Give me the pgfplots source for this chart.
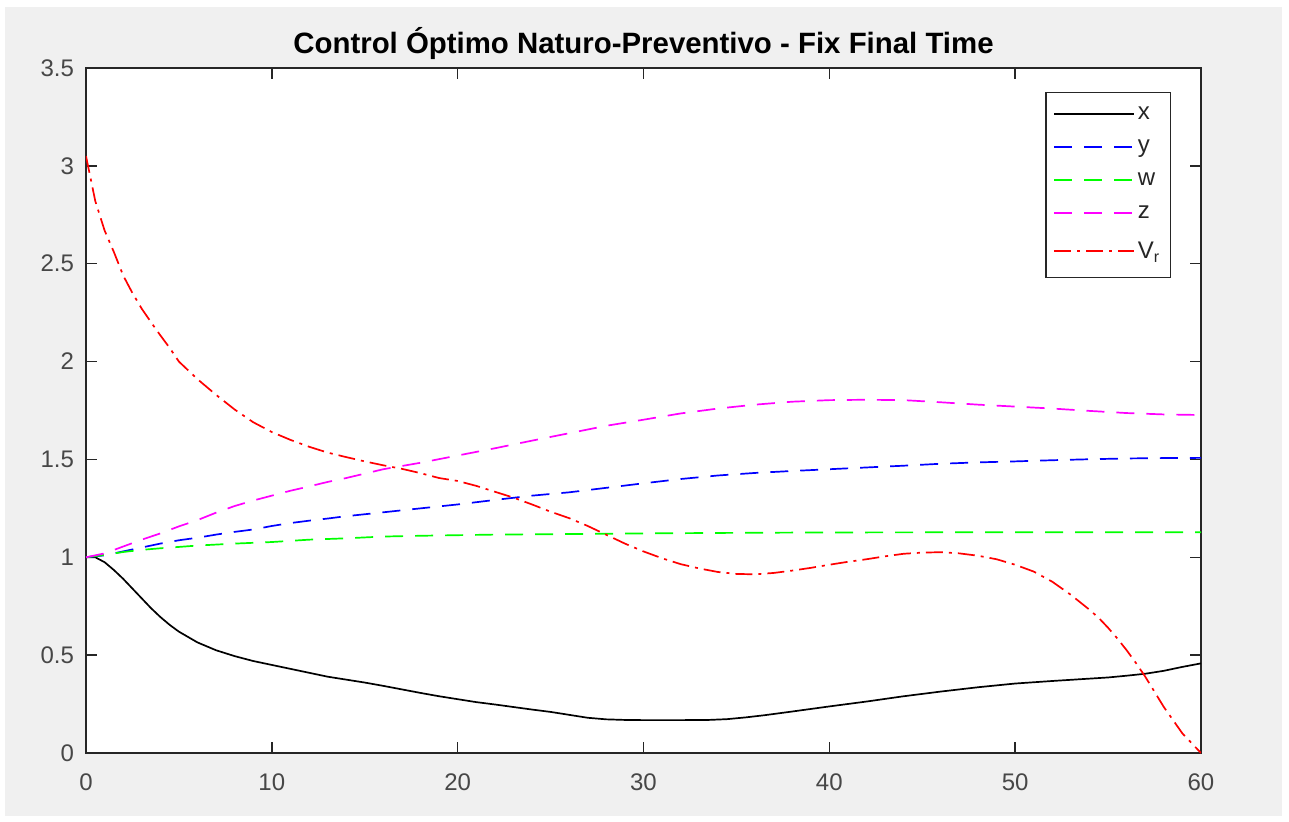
\documentclass[border=0pt]{standalone}
\usepackage{pgfplots}
\pgfplotsset{compat=1.18}
\usepackage{fontspec}
\setmainfont{Liberation Sans}
\definecolor{figbg}{RGB}{240,240,240}
\definecolor{axgray}{RGB}{38,38,38}
\definecolor{mblue}{RGB}{0,0,255}
\definecolor{mgreen}{RGB}{0,255,0}
\definecolor{mmag}{RGB}{255,0,255}
\definecolor{mred}{RGB}{255,0,0}
\begin{document}
\begin{tikzpicture}
\fill[white] (-43pt,-34pt) rectangle (601.5pt,376.5pt);
\fill[figbg] (-40.5pt,-31.5pt) rectangle (598pt,373pt);
\begin{axis}[
  scale only axis, width=557.5pt, height=342.5pt,
  xmin=0, xmax=60, ymin=0, ymax=3.5,
  xtick={0,10,...,60}, ytick={0,0.5,...,3.5},
  axis background/.style={fill=white},
  tick align=inside, major tick length=5.5pt,
  axis line style={axgray, line width=0.7pt},
  every tick/.style={axgray, line width=0.7pt},
  /pgf/number format/assume math mode=true,
  tick label style={font=\fontsize{12}{14}\selectfont, text=axgray!85},
  xticklabel style={yshift=-7pt},
  yticklabel style={xshift=-2.5pt},
  title={Control Óptimo Naturo-Preventivo - Fix Final Time},
  every axis title shift=0pt,
  title style={font=\bfseries\fontsize{14.7}{17}\selectfont, at={(0.5,1)}, anchor=base, yshift=7.5pt},
  legend image code/.code={\draw[#1] (0pt,0pt) -- (40pt,0pt);},
  legend cell align=left,
  legend style={at={(0.9731,0.965)}, anchor=north east, draw=axgray, line width=0.7pt, fill=white,
    font=\fontsize{12}{14}\selectfont, inner xsep=3.5pt, inner ysep=3pt, row sep=1.5pt,
    nodes={inner xsep=1.5pt, inner ysep=1.5pt, text height=9pt, text depth=3pt, text=axgray}},
]
\addplot[draw=black, line width=0.85pt, forget plot] coordinates {(0,1.0) (0.5,1.0) (1,0.975) (1.5,0.935) (2,0.89) (2.5,0.84) (3,0.79) (3.5,0.74) (4,0.695) (4.5,0.655) (5,0.62) (6,0.565) (7,0.525) (8,0.495) (9,0.47) (10,0.45) (11,0.43) (12,0.41) (13,0.39) (14,0.375) (15,0.36) (16,0.343) (17,0.325) (18,0.307) (19,0.29) (20,0.275) (21,0.26) (22,0.248) (23,0.235) (24,0.222) (25,0.21) (26,0.195) (27,0.18) (28,0.172) (29,0.169) (30,0.168) (32,0.168) (33.5,0.169) (34.5,0.173) (35.5,0.182) (36.5,0.193) (38,0.212) (40,0.238) (42,0.263) (44,0.29) (46,0.314) (48,0.336) (50,0.355) (52,0.368) (54,0.38) (55,0.386) (56,0.395) (57,0.405) (58,0.42) (59,0.44) (60,0.458)};
\addplot[draw=mblue, line width=0.85pt, dash pattern=on 9pt off 6pt, forget plot] coordinates {(0,1.0) (1,1.01) (2,1.03) (3,1.05) (4,1.07) (5,1.087) (6,1.1) (7,1.116) (8,1.13) (9,1.142) (10,1.16) (11,1.175) (12,1.187) (13,1.198) (14,1.21) (16,1.23) (18,1.25) (20,1.27) (22,1.293) (24,1.315) (26,1.332) (28,1.355) (30,1.378) (32,1.4) (34,1.418) (36,1.431) (38,1.441) (40,1.45) (42,1.459) (44,1.468) (46,1.478) (48,1.485) (50,1.49) (52,1.496) (54,1.501) (56,1.505) (58,1.507) (60,1.508)};
\addplot[draw=mgreen, line width=0.85pt, dash pattern=on 9pt off 6pt, forget plot] coordinates {(0,1.0) (1,1.012) (2,1.027) (3,1.038) (4,1.046) (5,1.053) (6,1.06) (7,1.065) (8,1.07) (9,1.074) (10,1.078) (12,1.09) (14,1.097) (16,1.106) (18,1.11) (20,1.113) (22,1.116) (25,1.118) (30,1.122) (35,1.125) (40,1.127) (50,1.128) (60,1.128)};
\addplot[draw=mmag, line width=0.85pt, dash pattern=on 9pt off 6pt, forget plot] coordinates {(0,1.0) (1,1.02) (2,1.055) (3,1.09) (4,1.122) (5,1.158) (6,1.19) (7,1.228) (8,1.262) (9,1.29) (10,1.315) (11,1.34) (12,1.362) (13,1.385) (14,1.405) (16,1.45) (18,1.483) (20,1.52) (22,1.557) (24,1.596) (26,1.634) (28,1.672) (30,1.703) (32,1.735) (34,1.76) (36,1.78) (38,1.795) (40,1.803) (42,1.805) (44,1.803) (46,1.792) (48,1.78) (50,1.77) (52,1.76) (54,1.748) (56,1.737) (58,1.73) (60,1.727)};
\addplot[draw=mred, line width=0.85pt, dash pattern=on 8.5pt off 3pt on 1.5pt off 3pt, forget plot] coordinates {(0,3.05) (0.5,2.82) (1,2.67) (1.5,2.56) (2,2.44) (2.5,2.35) (3,2.27) (3.8,2.16) (4.5,2.07) (5,2.0) (6,1.91) (7,1.83) (8,1.755) (9,1.69) (10,1.64) (11,1.6) (12,1.565) (13,1.535) (14,1.512) (15,1.49) (16,1.47) (17,1.452) (18,1.43) (19,1.405) (20,1.39) (21,1.365) (22,1.335) (23,1.305) (24,1.27) (25,1.233) (26,1.2) (27,1.16) (28,1.115) (29,1.07) (30,1.03) (31,0.995) (32,0.965) (33,0.943) (34,0.925) (35,0.915) (36,0.913) (37,0.92) (38,0.932) (39,0.946) (40,0.962) (41,0.977) (42,0.99) (43,1.005) (44,1.018) (45,1.024) (46,1.026) (47,1.02) (48,1.008) (49,0.99) (50,0.962) (51,0.927) (52,0.875) (53,0.808) (54,0.732) (54.5,0.69) (55,0.64) (55.5,0.585) (56,0.525) (56.5,0.46) (57,0.39) (58,0.235) (59,0.1) (60,0.0)};
\addlegendimage{draw=black, line width=0.9pt}
\addlegendentry{x}
\addlegendimage{draw=mblue, line width=0.9pt, dash pattern=on 9pt off 6pt}
\addlegendentry{y}
\addlegendimage{draw=mgreen, line width=0.9pt, dash pattern=on 9pt off 6pt}
\addlegendentry{w}
\addlegendimage{draw=mmag, line width=0.9pt, dash pattern=on 9pt off 6pt}
\addlegendentry{z}
\addlegendimage{draw=mred, line width=0.9pt, dash pattern=on 8.5pt off 3pt on 1.5pt off 3pt}
\addlegendentry[text height=12.5pt, text depth=5pt]{V\textsubscript{r}}
\end{axis}
\end{tikzpicture}
\end{document}
